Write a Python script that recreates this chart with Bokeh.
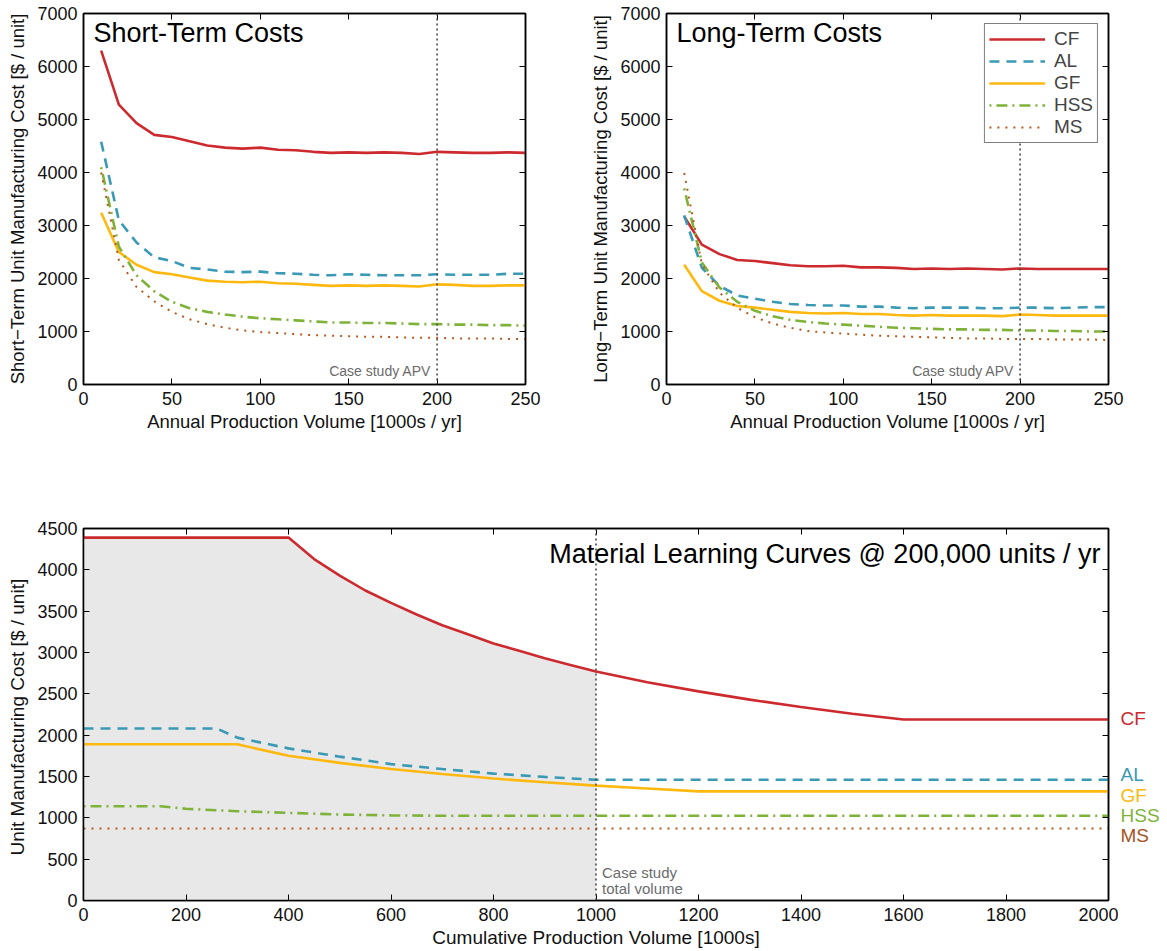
from bokeh.plotting import figure
from bokeh.models import Range1d, LinearAxis, FixedTicker, Label, Legend, LegendItem, Span
from bokeh.layouts import column, row
from bokeh.embed import file_html
from bokeh.resources import INLINE

# ---------------- data ----------------
materials = ["CF", "AL", "GF", "HSS", "MS"]

apv = [10, 20, 30, 40, 50, 60, 70, 80, 90, 100, 110, 120, 130, 140, 150,
       160, 170, 180, 190, 200, 210, 220, 230, 240, 250]

# short-term unit manufacturing cost [$ / unit]
st_cf = [6300, 5280, 4930, 4710, 4670, 4590, 4510, 4470, 4450, 4470, 4430, 4420, 4390,
         4370, 4380, 4370, 4380, 4370, 4350, 4390, 4380, 4370, 4370, 4380, 4370]
st_al = [4580, 3100, 2680, 2400, 2330, 2200, 2170, 2130, 2120, 2130, 2100, 2090, 2070,
         2060, 2080, 2070, 2060, 2060, 2060, 2080, 2070, 2070, 2070, 2090, 2090]
st_gf = [3240, 2500, 2260, 2120, 2080, 2020, 1960, 1940, 1930, 1940, 1910, 1900, 1880,
         1860, 1870, 1860, 1870, 1860, 1850, 1890, 1880, 1860, 1860, 1870, 1870]
st_hss = [4100, 2600, 2060, 1760, 1560, 1440, 1370, 1320, 1280, 1250, 1230, 1210, 1190,
          1170, 1170, 1160, 1160, 1150, 1140, 1140, 1130, 1130, 1120, 1120, 1110]
st_ms = [4000, 2350, 1840, 1570, 1370, 1230, 1140, 1070, 1020, 990, 970, 950, 930,
         920, 910, 900, 900, 890, 880, 880, 870, 870, 870, 860, 860]

# long-term unit manufacturing cost [$ / unit]
lt_cf = [3170, 2640, 2460, 2350, 2330, 2290, 2250, 2230, 2230, 2240, 2210, 2210, 2200,
         2180, 2190, 2180, 2190, 2180, 2170, 2190, 2180, 2180, 2180, 2180, 2180]
lt_al = [3190, 2200, 1860, 1680, 1620, 1560, 1520, 1500, 1490, 1490, 1470, 1470, 1450,
         1440, 1450, 1450, 1450, 1440, 1440, 1450, 1450, 1440, 1450, 1460, 1460]
lt_gf = [2260, 1760, 1580, 1480, 1450, 1410, 1370, 1350, 1340, 1350, 1330, 1330, 1310,
         1300, 1310, 1300, 1300, 1300, 1290, 1320, 1310, 1300, 1300, 1300, 1300]
lt_hss = [3700, 2300, 1830, 1560, 1390, 1290, 1220, 1180, 1150, 1130, 1110, 1090, 1070,
          1060, 1050, 1040, 1040, 1030, 1030, 1020, 1020, 1010, 1010, 1000, 1000]
lt_ms = [3990, 2270, 1730, 1450, 1270, 1150, 1070, 1010, 980, 960, 940, 920, 910,
         900, 890, 880, 870, 870, 860, 860, 860, 850, 850, 850, 840]

# learning curves at 200,000 units / yr, cumulative volume [1000s]
cum_cf_x = [0, 400, 450, 500, 550, 600, 650, 700, 750, 800, 850, 900, 950, 1000,
            1100, 1200, 1300, 1400, 1500, 1600, 2000]
cum_cf = [4390, 4390, 4130, 3930, 3750, 3600, 3460, 3330, 3220, 3110, 3020, 2930, 2850, 2770,
          2640, 2530, 2430, 2340, 2260, 2190, 2190]
cum_al_x = [0, 260, 300, 400, 500, 600, 700, 800, 900, 1000, 2000]
cum_al = [2080, 2080, 1970, 1840, 1740, 1650, 1590, 1535, 1495, 1460, 1460]
cum_gf_x = [0, 300, 400, 500, 600, 700, 800, 900, 1000, 1100, 1200, 2000]
cum_gf = [1890, 1890, 1750, 1665, 1590, 1530, 1475, 1430, 1390, 1355, 1320, 1320]
cum_hss_x = [0, 150, 200, 300, 400, 500, 600, 700, 800, 2000]
cum_hss = [1140, 1140, 1110, 1080, 1060, 1040, 1030, 1025, 1025, 1025]
cum_ms_x = [0, 2000]
cum_ms = [870, 870]

# vertical positions of the material names beside the learning curves
end_label_y = [2200, 1520, 1275, 1030, 790]

case_apv = 200
case_volume = 1000

apv_ticks = [0, 50, 100, 150, 200, 250]
cost_ticks = [0, 1000, 2000, 3000, 4000, 5000, 6000, 7000]
cum_ticks = [0, 200, 400, 600, 800, 1000, 1200, 1400, 1600, 1800, 2000]
cum_cost_ticks = [0, 500, 1000, 1500, 2000, 2500, 3000, 3500, 4000, 4500]

# ---------------- styles ----------------
FONT = "Liberation Sans"
STYLE = {
    "CF": dict(line_color="#cc2a2e", line_width=2.6, line_dash="solid"),
    "AL": dict(line_color="#3a9ab5", line_width=2.6, line_dash="10 7"),
    "GF": dict(line_color="#ffb80f", line_width=2.6, line_dash="solid"),
    "HSS": dict(line_color="#7fb239", line_width=2.6, line_dash="2 5 11 5"),
    "MS": dict(line_color="#b5591f", line_width=2.0, line_dash="2 6"),
}
LABEL_COLOR = ["#cc2a2e", "#3a9ab5", "#ffb80f", "#7fb239", "#a8521c"]


def style_axes(p, xticks, yticks, xlabel, ylabel, label_size="18.5px"):
    for ax, ticks, lab in ((p.xaxis[0], xticks, xlabel), (p.yaxis[0], yticks, ylabel)):
        ax.ticker = FixedTicker(ticks=ticks)
        ax.axis_label = lab
        ax.axis_label_text_font = FONT
        ax.axis_label_text_font_size = label_size
        ax.axis_label_text_font_style = "normal"
        ax.axis_label_text_color = "#111111"
        ax.major_label_text_font = FONT
        ax.major_label_text_font_size = "18px"
        ax.major_label_text_color = "#111111"
        ax.major_tick_in = 6
        ax.major_tick_out = 0
        ax.minor_tick_line_color = None
        ax.axis_line_color = "black"
        ax.axis_line_width = 1.5
        ax.major_tick_line_color = "black"
    p.xaxis[0].major_label_standoff = 7
    p.xaxis[0].axis_label_standoff = 3
    p.yaxis[0].major_label_standoff = 6
    p.yaxis[0].axis_label_standoff = 6
    # mirrored tick marks on the top and right edges of the box
    for side, ticks in (("above", xticks), ("right", yticks)):
        ax = LinearAxis(ticker=FixedTicker(ticks=ticks),
                        major_label_text_color=None, major_label_text_font_size="1px",
                        major_label_standoff=0,
                        major_tick_in=6, major_tick_out=0,
                        minor_tick_line_color=None,
                        axis_line_color="black", axis_line_width=1.5,
                        major_tick_line_color="black")
        p.add_layout(ax, side)
    p.outline_line_color = "black"
    p.outline_line_width = 1.5
    p.xgrid.grid_line_color = None
    p.ygrid.grid_line_color = None


def cost_panel(series, title, ylabel, border_left, border_right, with_legend):
    p = figure(frame_width=442, frame_height=371,
               x_range=Range1d(0, 250), y_range=Range1d(0, 7000),
               output_backend="svg", toolbar_location=None,
               min_border_left=border_left, min_border_right=border_right,
               min_border_top=13, min_border_bottom=124,
               background_fill_color="white", border_fill_color="white")
    style_axes(p, apv_ticks, cost_ticks, "Annual Production Volume [1000s / yr]", ylabel)

    p.add_layout(Span(location=case_apv, dimension="height", line_color="#4a4a4a",
                      line_width=1.6, line_dash="2 3"))
    p.add_layout(Label(x=case_apv, y=0, x_offset=-6, y_offset=6, text="Case study APV",
                       text_align="right", text_baseline="bottom",
                       text_font=FONT, text_font_size="14px", text_color="#6b6b6b"))

    items = []
    for name, ys in zip(materials, series):
        r = p.line(apv, ys, line_cap="butt", **STYLE[name])
        items.append(LegendItem(label=name, renderers=[r]))

    p.add_layout(Label(x=0, y=7000, x_offset=10, y_offset=-4, text=title,
                       text_align="left", text_baseline="top",
                       text_font=FONT, text_font_size="27px", text_color="black"))

    if with_legend:
        leg = Legend(items=items, location="top_right", margin=10, padding=4, spacing=0,
                     glyph_width=56, glyph_height=22, label_standoff=9,
                     label_text_font=FONT, label_text_font_size="19px",
                     label_height=22,
                     border_line_color="black", border_line_width=1.5,
                     background_fill_color="white", background_fill_alpha=1.0)
        p.add_layout(leg)
    return p


p1 = cost_panel([st_cf, st_al, st_gf, st_hss, st_ms], "Short-Term Costs",
                "Short\u2212Term Unit Manufacturing Cost [$ / unit]", 83, 58, False)
p2 = cost_panel([lt_cf, lt_al, lt_gf, lt_hss, lt_ms], "Long-Term Costs",
                "Long\u2212Term Unit Manufacturing Cost [$ / unit]", 83, 59, True)

# ---------------- learning curves ----------------
cum_range = Range1d(0, 4500)
p3 = figure(frame_width=1025, frame_height=372,
            x_range=Range1d(0, 2000), y_range=cum_range,
            output_backend="svg", toolbar_location=None,
            min_border_left=83, min_border_right=10,
            min_border_top=20, min_border_bottom=50,
            background_fill_color="white", border_fill_color="white")
style_axes(p3, cum_ticks, cum_cost_ticks, "Cumulative Production Volume [1000s]",
           "Unit Manufacturing Cost [$ /  unit]", label_size="19px")

# shaded area: cumulative volume up to the case-study total, under the CF curve
fill_x = [x for x in cum_cf_x if x <= case_volume]
fill_y = [y for x, y in zip(cum_cf_x, cum_cf) if x <= case_volume]
p3.varea(x=fill_x, y1=0, y2=fill_y, fill_color="#e8e8e8")

p3.add_layout(Span(location=case_volume, dimension="height", line_color="#4a4a4a",
                   line_width=1.6, line_dash="2 3"))
p3.add_layout(Label(x=case_volume, y=0, x_offset=6, y_offset=20, text="Case study",
                    text_align="left", text_baseline="bottom",
                    text_font=FONT, text_font_size="15px", text_color="#6b6b6b"))
p3.add_layout(Label(x=case_volume, y=0, x_offset=6, y_offset=4, text="total volume",
                    text_align="left", text_baseline="bottom",
                    text_font=FONT, text_font_size="15px", text_color="#6b6b6b"))

cum_series = [(cum_cf_x, cum_cf), (cum_al_x, cum_al), (cum_gf_x, cum_gf),
              (cum_hss_x, cum_hss), (cum_ms_x, cum_ms)]
for name, (xs, ys) in zip(materials, cum_series):
    p3.line(xs, ys, line_cap="butt", **STYLE[name])

p3.add_layout(Label(x=2000, y=4500, x_offset=-8, y_offset=-10,
                    text="Material Learning Curves @ 200,000 units / yr",
                    text_align="right", text_baseline="top",
                    text_font=FONT, text_font_size="27px", text_color="black"))

# narrow strip to the right of the learning curves holding the material names,
# sharing the cost axis so each name sits at its curve's level
names = figure(frame_width=49, frame_height=372,
               x_range=Range1d(0, 49), y_range=cum_range,
               output_backend="svg", toolbar_location=None,
               min_border_left=0, min_border_right=0,
               min_border_top=20, min_border_bottom=50,
               outline_line_color=None,
               background_fill_color="white", border_fill_color="white")
names.axis.visible = False
names.xgrid.grid_line_color = None
names.ygrid.grid_line_color = None
names.text(x=[2] * len(materials), y=end_label_y, text=materials,
           text_color=LABEL_COLOR, text_font_size="19px",
           text_font={"value": FONT}, text_align="left", text_baseline="middle")

layout = column(row(p1, p2, spacing=0), row(p3, names, spacing=0), spacing=0)

with open("out.html", "w") as f:
    f.write(file_html(layout, INLINE))
